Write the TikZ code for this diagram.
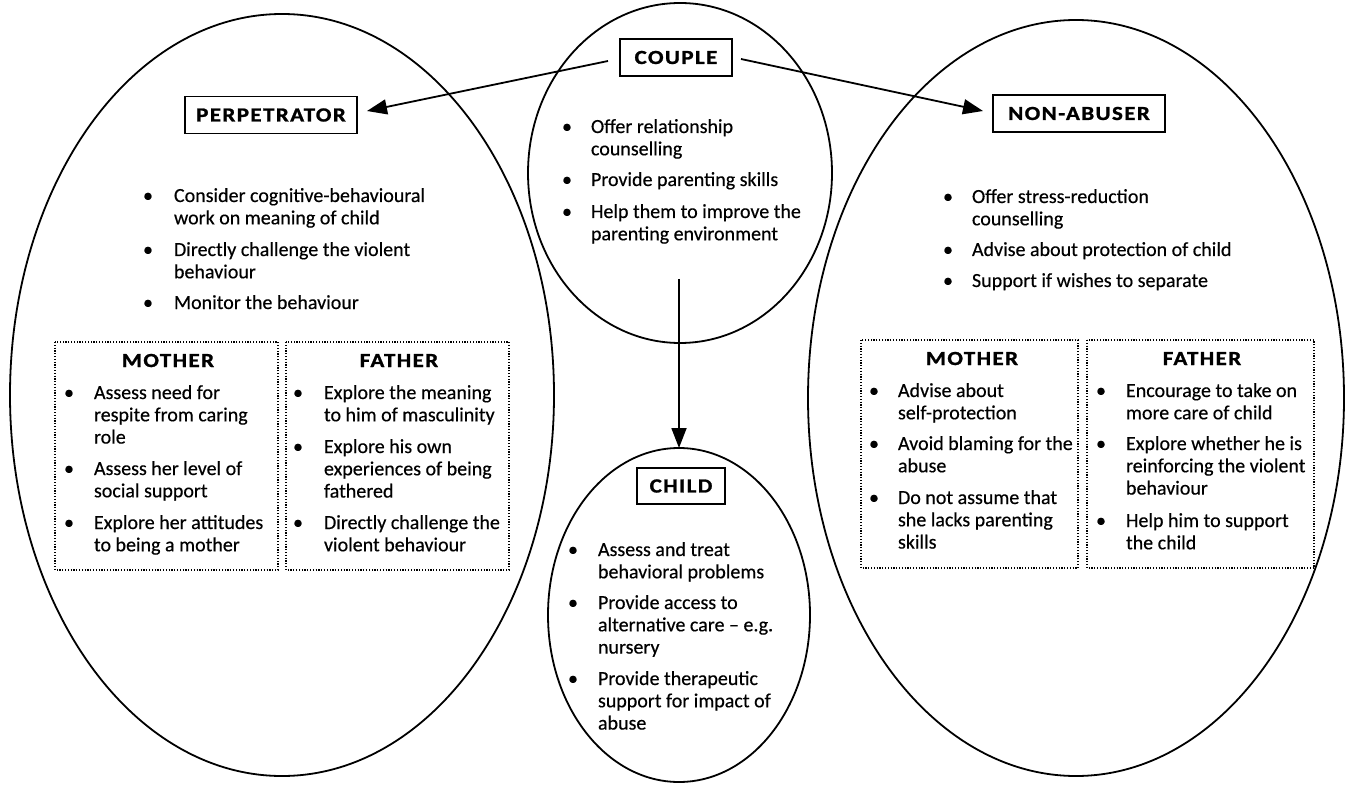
\documentclass[tikz,border=0pt]{standalone}
\usepackage{fontspec}
\setmainfont{Carlito}[UprightFeatures={FakeBold=0.4}]
\newfontfamily\headfont{Carlito}[FakeStretch=1.15, LetterSpace=7, BoldFeatures={FakeBold=1.2}]
\usetikzlibrary{arrows.meta,calc,shapes.geometric}

% one bullet item: name, bullet x, text x, first baseline y, lines
\newcommand\bitem[5]{%
  \node[bul] (#1b) at (#2,#4) {\textbullet};
  \node[bodytext] (#1) at (#3,#4) {\begin{tabular}[t]{@{}l@{}}#5\end{tabular}};
}

\begin{document}
\begin{tikzpicture}[x=1pt,y=-1pt,
  every node/.style={inner sep=0pt, outer sep=0pt},
  ring/.style={draw, ellipse, line width=1.8pt},
  titlebox/.style={draw, line width=1.8pt, minimum height=37pt,
    font=\headfont\bfseries\fontsize{20}{22}\selectfont},
  subhead/.style={anchor=base, font=\headfont\bfseries\fontsize{20}{22}\selectfont},
  dotbox/.style={draw, line width=1.2pt, dash pattern=on 1.2pt off 1.6pt},
  bodytext/.style={anchor=base west, font=\fontsize{20}{22.3}\selectfont},
  bul/.style={anchor=base, font=\fontsize{20}{22.3}\selectfont},
  link/.style={line width=1.8pt, -{Triangle[length=20pt,width=15pt]}}
]
\useasboundingbox (0,0) rectangle (1346,786);

% the four circles of concern
\node[ring, minimum width=544pt, minimum height=762pt] (perpring) at (282,395) {};
\node[ring, minimum width=536pt, minimum height=756pt] (nonring) at (1076,398) {};
\node[ring, minimum width=304pt, minimum height=340pt] (couplering) at (680,173) {};
\node[ring, minimum width=262pt, minimum height=334pt] (childring) at (679,615) {};

% titles
\node[titlebox, minimum width=112pt] (couple) at (676,57.5) {COUPLE};
\node[titlebox, minimum width=172pt] (perp) at (271,115) {PERPETRATOR};
\node[titlebox, minimum width=172pt] (nonab) at (1079,113.5) {NON-ABUSER};
\node[titlebox, minimum width=88pt, minimum height=36pt] (child) at (681,486) {CHILD};

% connectors
\coordinate (cL) at ($(couple.west)+(-12,3.5)$);
\coordinate (pR) at ($(perp.east)+(10,-4)$);
\coordinate (cR) at ($(couple.east)+(9,1.5)$);
\coordinate (nL) at ($(nonab.west)+(-10,-2.5)$);
\coordinate (down) at (679,279);
\draw[link] (cL) -- (pR);
\draw[link] (cR) -- (nL);
\draw[link] (down) -- (childring.north);

% couple
\bitem{c1}{567}{591}{133}{Offer relationship\\counselling}
\bitem{c2}{567}{591}{186}{Provide parenting skills}
\bitem{c3}{567}{591}{218}{Help them to improve the\\parenting environment}

% perpetrator
\bitem{p1}{148}{174}{202}{Consider cognitive-behavioural\\work on meaning of child}
\bitem{p2}{148}{174}{256}{Directly challenge the violent\\behaviour}
\bitem{p3}{148}{174}{309}{Monitor the behaviour}

% non-abuser
\bitem{n1}{948}{972}{203}{Offer stress-reduction\\counselling}
\bitem{n2}{948}{972}{256}{Advise about protection of child}
\bitem{n3}{948}{972}{287}{Support if wishes to separate}

% child
\bitem{k1}{573}{598}{556}{Assess and treat\\behavioral problems}
\bitem{k2}{573}{598}{609}{Provide access to\\alternative care -- e.g.\\nursery}
\bitem{k3}{573}{598}{685}{Provide therapeutic\\support for impact of\\abuse}

% perpetrator: mother / father
\draw[dotbox] (55,342) rectangle (278,570);
\draw[dotbox] (286,342) rectangle (509,570);
\node[subhead] (pm) at (168,367) {MOTHER};
\node[subhead] (pf) at (399,367) {FATHER};
\bitem{pm1}{69}{94}{399}{Assess need for\\respite from caring\\role}
\bitem{pm2}{69}{94}{475}{Assess her level of\\social support}
\bitem{pm3}{69}{94}{529}{Explore her attitudes\\to being a mother}
\bitem{pf1}{298}{324}{399}{Explore the meaning\\to him of masculinity}
\bitem{pf2}{298}{324}{453}{Explore his own\\experiences of being\\fathered}
\bitem{pf3}{298}{324}{529}{Directly challenge the\\violent behaviour}

% non-abuser: mother / father
\draw[dotbox] (861,340) rectangle (1078,568);
\draw[dotbox] (1087,340) rectangle (1314,568);
\node[subhead] (nm) at (972,365) {MOTHER};
\node[subhead] (nf) at (1202,365) {FATHER};
\bitem{nm1}{874}{898}{397}{Advise about\\self-protection}
\bitem{nm2}{874}{898}{450}{Avoid blaming for the\\abuse}
\bitem{nm3}{874}{898}{504}{Do not assume that\\she lacks parenting\\skills}
\bitem{nf1}{1101}{1126}{397}{Encourage to take on\\more care of child}
\bitem{nf2}{1101}{1126}{450}{Explore whether he is\\reinforcing the violent\\behaviour}
\bitem{nf3}{1101}{1126}{527}{Help him to support\\the child}
\end{tikzpicture}
\end{document}
